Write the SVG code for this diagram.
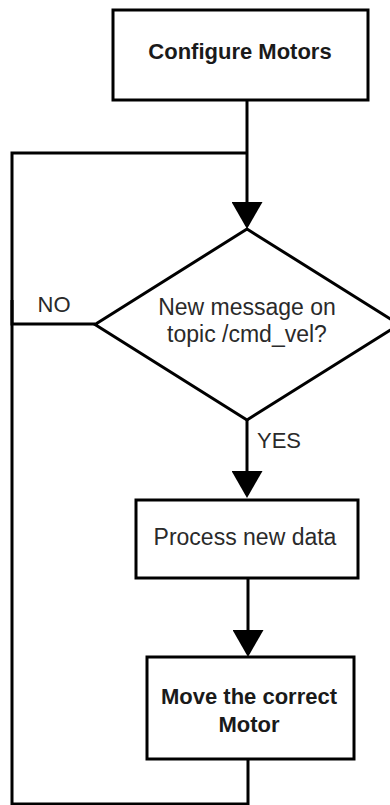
<svg xmlns="http://www.w3.org/2000/svg" width="390" height="805" viewBox="0 0 390 805">
  <style>
    .shape { fill: #ffffff; stroke: #000000; stroke-width: 3; }
    .link { fill: none; stroke: #000000; stroke-width: 3; }
    .label { font-family: "Liberation Sans", Arial, Helvetica, sans-serif; font-size: 23px; fill: #2a2a2a; text-anchor: middle; }
    .strong { font-size: 22px; font-weight: bold; fill: #1a1a1a; }
  </style>
  <defs>
    <marker id="arrow" viewBox="0 0 27 31" refX="24" refY="15.5" markerWidth="27" markerHeight="31" markerUnits="userSpaceOnUse" orient="auto">
      <path d="M0,0 L27,15.5 L0,31 Z" fill="#000000"/>
    </marker>
  </defs>

  <g id="connectors">
    <!-- start to decision -->
    <path class="link" d="M247,100 V226" marker-end="url(#arrow)"/>
    <!-- NO branch loops back above the decision -->
    <path class="link" d="M95,324 H12 V153 H247"/>
    <!-- return from the last step into the loop -->
    <path class="link" d="M248,759 V804 H12 V300"/>
    <!-- YES branch -->
    <path class="link" d="M247,420 V495" marker-end="url(#arrow)"/>
    <!-- process to move -->
    <path class="link" d="M248,578 V654" marker-end="url(#arrow)"/>
    <text class="label" x="54" y="312" style="font-size:22px">NO</text>
    <text class="label" x="279" y="448" style="font-size:22px">YES</text>
  </g>

  <g id="configure">
    <rect class="shape" x="113" y="10" width="255" height="90"/>
    <text class="label strong" x="240" y="59">Configure Motors</text>
  </g>

  <g id="decision">
    <polygon class="shape" points="247,229 399,324.5 247,420 95,324.5"/>
    <text class="label" x="247" y="315">New message on</text>
    <text class="label" x="247" y="342">topic /cmd_vel?</text>
  </g>

  <g id="process">
    <rect class="shape" x="136" y="500" width="222" height="78"/>
    <text class="label" x="245" y="545">Process new data</text>
  </g>

  <g id="move">
    <rect class="shape" x="147" y="657" width="207" height="102"/>
    <text class="label strong" x="249" y="704">Move the correct</text>
    <text class="label strong" x="249" y="732">Motor</text>
  </g>
</svg>
